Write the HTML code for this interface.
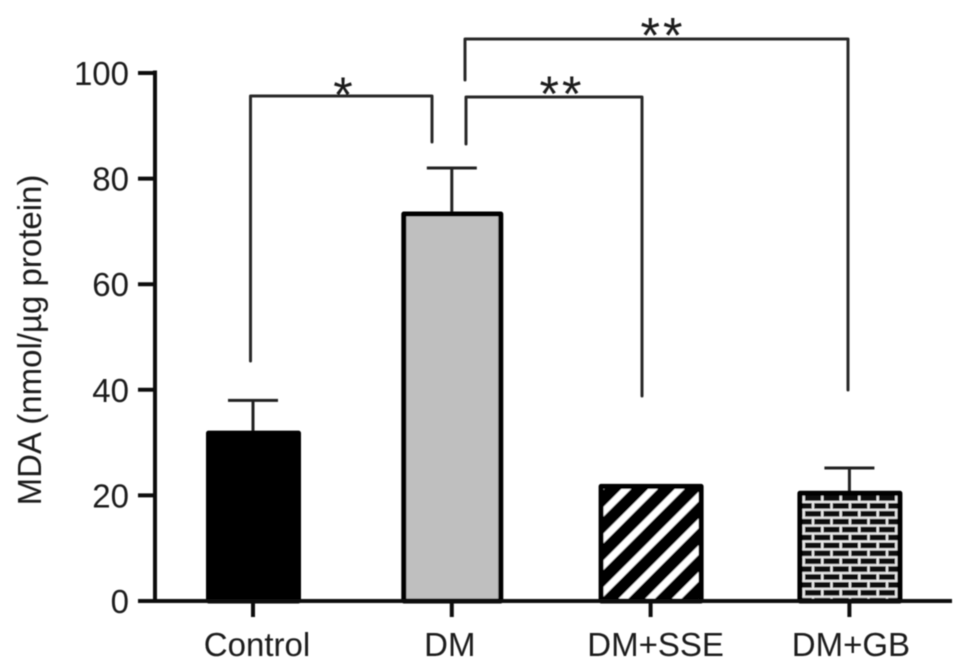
<!DOCTYPE html>
<html lang="en">
<head>
<meta charset="utf-8">
<title>MDA bar chart</title>
<style>
html,body{margin:0;padding:0;background:#fff;}
svg{display:block;width:969px;height:670px;}
text{font-family:"Liberation Sans",Arial,sans-serif;fill:#1a1a1a;}
</style>
</head>
<body>
<svg id="chart" xmlns="http://www.w3.org/2000/svg" width="969" height="670" viewBox="0 0 969 670">
  <defs>
    <filter id="soft" x="-5%" y="-5%" width="110%" height="110%"><feGaussianBlur stdDeviation="0.6"/></filter>
    <pattern id="hatch" patternUnits="userSpaceOnUse" width="26.7" height="26.7">
      <rect width="26.7" height="26.7" fill="#000"/>
      <path d="M-5 25.5L25.5 -5M-5 52.2L52.2 -5" stroke="#fff" stroke-width="7"/>
    </pattern>
    <pattern id="brick" patternUnits="userSpaceOnUse" width="18.5" height="15.8" x="813" y="502">
      <rect width="18.5" height="15.8" fill="#e8e8e8"/>
      <rect x="1.2" y="1.1" width="16.1" height="5.6" fill="#111"/>
      <rect x="-8.05" y="9" width="16.1" height="5.6" fill="#111"/>
      <rect x="10.45" y="9" width="16.1" height="5.6" fill="#111"/>
    </pattern>
  </defs>
  <rect width="969" height="670" fill="#fff"/>
  <g id="plot" filter="url(#soft)">
    <g id="bars"></g>
    <g id="axes"></g>
    <g fill="none" stroke="#2a2a2a" stroke-width="3" stroke-linejoin="round" stroke-linecap="round">
      <path d="M250.5 361V96H432V142"/>
      <path d="M466 144V97H642V396"/>
      <path d="M465 80V39H848V390"/>
    </g>
    <g text-anchor="middle" font-size="50">
      <text x="343" y="112">*</text>
      <text x="562" y="111" letter-spacing="3">**</text>
      <text x="663" y="52.5" letter-spacing="3">**</text>
    </g>
    <text transform="translate(41 340) rotate(-90)" text-anchor="middle" font-size="33">MDA (nmol/µg protein)</text>
  </g>
</svg>
<script>
const categories = ["Control", "DM", "DM+SSE", "DM+GB"];
const meanValues = [31.8, 73.3, 21.7, 20.4];
const errorValues = [6.2, 8.7, 0, 4.8];
const yTicks = [0, 20, 40, 60, 80, 100];
const barFills = ["#000", "#bfbfbf", "url(#hatch)", "url(#brick)"];

const NS = "http://www.w3.org/2000/svg";
const yScale = v => 601 - v * 5.28;
const xCenter = i => 253 + i * 198.8;
const BAR_W = [90, 97, 100, 100];
const LABEL_SHIFT = [4, -2, 5, 1.5];

function mk(tag, attrs, parent) {
  const el = document.createElementNS(NS, tag);
  for (const k in attrs) el.setAttribute(k, attrs[k]);
  parent.appendChild(el);
  return el;
}

const barsG = document.getElementById("bars");
const axesG = document.getElementById("axes");

categories.forEach((cat, i) => {
  const cx = xCenter(i);
  const top = yScale(meanValues[i]);
  const key = cat.toLowerCase().replace(/\+/g, "-");
  if (errorValues[i] > 0) {
    const errTop = yScale(meanValues[i] + errorValues[i]);
    const err = mk("path", { d: `M${cx} ${top}V${errTop}M${cx - 25} ${errTop}H${cx + 25}`, fill: "none", stroke: "#222", "stroke-width": 3 }, barsG);
    
    
  }
  const w = BAR_W[i];
  const bar = mk("rect", { x: cx - w / 2 + 0.5, y: top, width: w, height: 601 - top, fill: barFills[i], stroke: "#000", "stroke-width": 5, "stroke-linejoin": "round" }, barsG);
  
  
  const tick = mk("line", { x1: cx, x2: cx, y1: 601, y2: 617, stroke: "#111", "stroke-width": 4 }, axesG);
  
  
  const label = mk("text", { x: cx + LABEL_SHIFT[i], y: 656, "text-anchor": "middle", "font-size": 33 }, axesG);
  label.textContent = cat;
  
  
});

const xAxis = mk("line", { x1: 138, x2: 952, y1: 601, y2: 601, stroke: "#111", "stroke-width": 4 }, axesG);


const yAxis = mk("line", { x1: 155, x2: 155, y1: 70.5, y2: 603, stroke: "#111", "stroke-width": 4 }, axesG);



yTicks.forEach(t => {
  const y = yScale(t);
  const tick = mk("line", { x1: 155, x2: 138, y1: y, y2: y, stroke: "#111", "stroke-width": 4 }, axesG);
  
  
  const label = mk("text", { x: 129, y: y + 12, "text-anchor": "end", "font-size": 33 }, axesG);
  label.textContent = t;
  
  
});
</script>
</body>
</html>
